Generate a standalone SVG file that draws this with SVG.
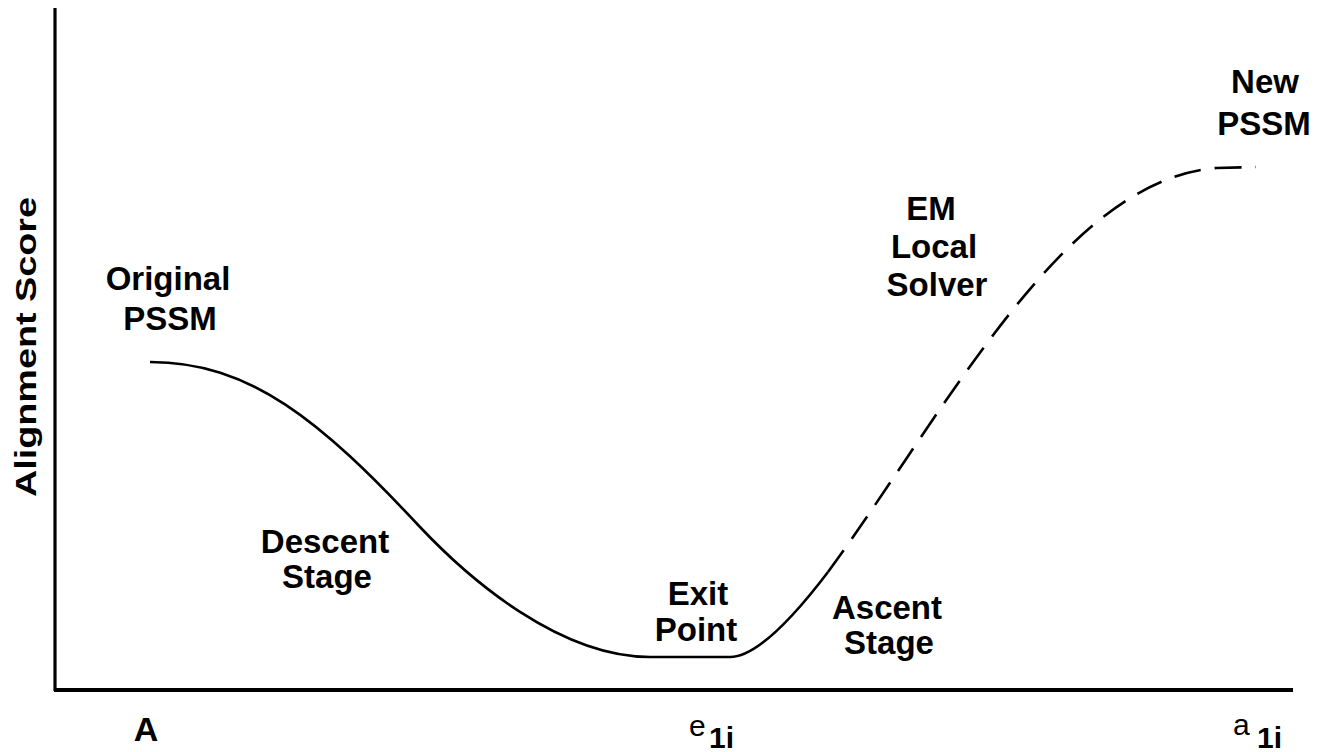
<svg xmlns="http://www.w3.org/2000/svg" width="1323" height="752" viewBox="0 0 1323 752">
<style>
.lbl{font-family:"Liberation Sans",Arial,sans-serif;font-weight:bold;font-size:33px;fill:#000;text-anchor:middle}
.ax{font-family:"Liberation Sans",Arial,sans-serif;fill:#000}
.curve{fill:none;stroke:#000;stroke-width:2.6;stroke-linecap:butt;stroke-linejoin:round}
</style>
<rect width="1323" height="752" fill="#fff"/>
<g id="axes">
<line x1="55" y1="8" x2="55" y2="691" stroke="#000" stroke-width="3.2"/>
<line x1="54" y1="690" x2="1293" y2="690" stroke="#000" stroke-width="4.2"/>
</g>
<g id="axis-labels">
<text class="ax" transform="translate(36,347) rotate(-90)" text-anchor="middle" font-size="30" font-weight="bold" textLength="300" lengthAdjust="spacingAndGlyphs">Alignment Score</text>
<text class="ax" x="146" y="741" text-anchor="middle" font-size="34" font-weight="bold">A</text>
<text class="ax" x="689" y="736" font-size="30">e</text>
<text class="ax" x="709" y="748" font-size="30" font-weight="bold">1i</text>
<text class="ax" x="1233" y="735" font-size="30">a</text>
<text class="ax" x="1257" y="748" font-size="30" font-weight="bold">1i</text>
</g>
<g id="connectors">
<path class="curve" d="M150,362 C250,362 320,420 420,527 C470,580 560,657 650,657 L730,657 C755,657 790,622 828,572"/>
<path class="curve" stroke-dasharray="27 14" d="M828,572 C950,405 1065,180 1216,168 L1256,167"/>
</g>
<g id="original-pssm">
<text class="lbl" x="168" y="290">Original</text>
<text class="lbl" x="170" y="330">PSSM</text>
</g>
<g id="descent-stage">
<text class="lbl" x="325" y="553">Descent</text>
<text class="lbl" x="327" y="588">Stage</text>
</g>
<g id="exit-point">
<text class="lbl" x="698" y="605">Exit</text>
<text class="lbl" x="696" y="641">Point</text>
</g>
<g id="ascent-stage">
<text class="lbl" x="887" y="619">Ascent</text>
<text class="lbl" x="889" y="654">Stage</text>
</g>
<g id="em-local-solver">
<text class="lbl" x="931" y="220">EM</text>
<text class="lbl" x="934" y="258">Local</text>
<text class="lbl" x="937" y="296">Solver</text>
</g>
<g id="new-pssm">
<text class="lbl" x="1265" y="93">New</text>
<text class="lbl" x="1264" y="135">PSSM</text>
</g>
</svg>
